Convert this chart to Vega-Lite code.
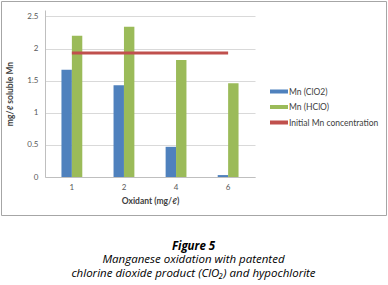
{
  "$schema": "https://vega.github.io/schema/vega-lite/v6.json",
  "width": 385,
  "height": 214,
  "autosize": {"type": "none"},
  "padding": {"left": 1, "top": 1, "right": 2, "bottom": 70},
  "background": "white",
  "config": {
    "view": {"stroke": "#a6a6a6", "strokeWidth": 1},
    "font": "Lato",
    "axis": {
      "labelFont": "Lato",
      "labelFontSize": 8,
      "labelColor": "#595959",
      "titleFont": "Lato",
      "titleFontSize": 8.5,
      "titleFontWeight": "bold",
      "titleColor": "#404040",
      "ticks": false,
      "domainColor": "#bfbfbf",
      "gridColor": "#d9d9d9"
    }
  },
  "title": {
    "text": "Figure 5",
    "subtitle": ["Manganese oxidation with patented", "chlorine dioxide product (ClO₂) and hypochlorite"],
    "orient": "bottom",
    "anchor": "middle",
    "frame": "group",
    "baseline": "top",
    "offset": 25.5,
    "font": "Open Sans",
    "fontSize": 11.5,
    "fontStyle": "italic",
    "fontWeight": "bold",
    "color": "black",
    "subtitleFont": "Open Sans",
    "subtitleFontSize": 11.5,
    "subtitleFontStyle": "italic",
    "subtitleColor": "black",
    "subtitleLineHeight": 14,
    "subtitlePadding": 2
  },
  "layer": [
    {
      "data": {
        "values": [
          {"oxidant": "1", "series": "Mn (ClO2)", "value": 1.67},
          {"oxidant": "2", "series": "Mn (ClO2)", "value": 1.43},
          {"oxidant": "4", "series": "Mn (ClO2)", "value": 0.47},
          {"oxidant": "6", "series": "Mn (ClO2)", "value": 0.03},
          {"oxidant": "1", "series": "Mn (HClO)", "value": 2.2},
          {"oxidant": "2", "series": "Mn (HClO)", "value": 2.34},
          {"oxidant": "4", "series": "Mn (HClO)", "value": 1.82},
          {"oxidant": "6", "series": "Mn (HClO)", "value": 1.46}
        ]
      },
      "mark": {"type": "bar"},
      "encoding": {
        "x": {
          "field": "oxidant",
          "type": "ordinal",
          "sort": ["1", "2", "4", "6"],
          "scale": {"range": [44, 254], "paddingInner": 0.6, "paddingOuter": 0.316},
          "axis": {
            "title": "Oxidant (mg/ℓ)",
            "labelAngle": 0,
            "labelPadding": 6,
            "offset": -38,
            "titlePadding": 5,
            "grid": false
          }
        },
        "xOffset": {"field": "series", "sort": ["Mn (ClO2)", "Mn (HClO)"]},
        "y": {
          "field": "value",
          "type": "quantitative",
          "scale": {"domain": [0, 2.5], "range": [176, 9]},
          "axis": {
            "title": "mg/ℓ soluble Mn",
            "values": [0, 0.5, 1, 1.5, 2, 2.5],
            "format": "~g",
            "labelPadding": 7,
            "offset": -44,
            "titlePadding": 12,
            "grid": true
          }
        },
        "color": {
          "field": "series",
          "type": "nominal",
          "scale": {
            "domain": ["Mn (ClO2)", "Mn (HClO)", "Initial Mn concentration"],
            "range": ["#4f81bd", "#9bbb59", "#c0504d"]
          },
          "legend": {
            "orient": "none",
            "legendX": 269,
            "legendY": 84,
            "title": null,
            "padding": 0,
            "symbolType": "M-1,-0.22H1V0.22H-1Z",
            "symbolSize": 324,
            "clipHeight": 13,
            "rowPadding": 2.5,
            "labelFont": "Lato",
            "labelFontSize": 8.5,
            "labelColor": "#404040",
            "labelOffset": 1,
            "encode": {
              "symbols": {
                "update": {
                  "fill": {"scale": "color", "field": "value"},
                  "stroke": {"value": "transparent"},
                  "strokeWidth": {"value": 0}
                }
              }
            }
          }
        }
      }
    },
    {
      "data": {
        "values": [
          {"oxidant": "1", "value": 1.93},
          {"oxidant": "6", "value": 1.93}
        ]
      },
      "mark": {"type": "line", "strokeWidth": 3},
      "encoding": {
        "x": {"field": "oxidant", "type": "ordinal", "sort": ["1", "2", "4", "6"]},
        "y": {"field": "value", "type": "quantitative"},
        "color": {"datum": "Initial Mn concentration"}
      }
    }
  ]
}
